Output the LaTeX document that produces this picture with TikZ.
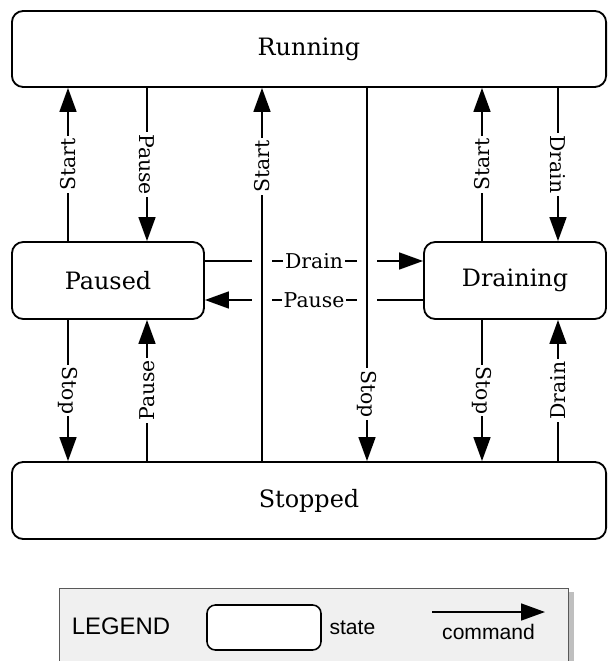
\documentclass[tikz,border=0pt]{standalone}
\usepackage{fontspec}
\setmainfont{DejaVu Serif}
\newfontfamily\legendfont{Liberation Sans}
\usepackage{xcolor}
\usepackage{tikz}
\usetikzlibrary{arrows.meta,positioning,shadows}
\definecolor{stateDark} {gray}{0.00}
\definecolor{legendBand}{gray}{0.94}
\definecolor{legendLine}{gray}{0.35}

\begin{document}
\begin{tikzpicture}[x=0.025cm, y=-0.025cm,
      state/.style={draw=stateDark, line width=1.3pt, rounded corners=8pt,
                    fill=white, font=\fontsize{17}{19}\selectfont},
      cmd/.style={-{Triangle[length=17pt, width=12pt]}, line width=1.3pt, draw=stateDark},
      lbl/.style={fill=white, inner sep=1.5pt, font=\fontsize{14.5}{16}\selectfont},
      gap/.style={draw=white, line width=14pt},
      legtext/.style={font=\legendfont\fontsize{15}{17}\selectfont}]
    \useasboundingbox (0,0) rectangle (608,661);

    % states
    \node[state, minimum width=14.85cm, minimum height=1.9cm]  (running)  at (309,49)    {Running};
    \node[state, minimum width=4.8cm,   minimum height=1.925cm] (paused)   at (108,280.5) {Paused};
    \node[state, minimum width=4.55cm,  minimum height=1.925cm] (draining) at (515,280.5) {Draining};
    \node[state, minimum width=14.85cm, minimum height=1.925cm] (stopped)  at (309,500.5) {Stopped};

    % columns and rows of the commands
    \coordinate (xa) at (68,0);
    \coordinate (xb) at (147,0);
    \coordinate (xc) at (262,0);
    \coordinate (xd) at (367,0);
    \coordinate (xe) at (482,0);
    \coordinate (xf) at (558,0);
    \coordinate (yd) at (0,261);
    \coordinate (yp) at (0,300);

    % Paused <-> Draining
    \draw[cmd] (paused.east |- yd) -- node[lbl] {Drain} (draining.west |- yd);
    \draw[cmd] (draining.west |- yp) -- node[lbl] {Pause} (paused.east |- yp);
    \draw[gap] (xc |- paused.north) -- (xc |- paused.south);
    \draw[gap] (xd |- paused.north) -- (xd |- paused.south);

    % Running <-> Paused
    \draw[cmd] (xa |- paused.north) -- node[lbl, rotate=90] {Start} (xa |- running.south);
    \draw[cmd] (xb |- running.south) -- node[lbl, rotate=-90] {Pause} (xb |- paused.north);
    % Paused <-> Stopped
    \draw[cmd] (xa |- paused.south) -- node[lbl, rotate=-90] {Stop} (xa |- stopped.north);
    \draw[cmd] (xb |- stopped.north) -- node[lbl, rotate=90] {Pause} (xb |- paused.south);
    % Running <-> Stopped
    \draw[cmd] (xc |- stopped.north) -- node[lbl, rotate=90, pos=.79] {Start} (xc |- running.south);
    \draw[cmd] (xd |- running.south) -- node[lbl, rotate=-90, pos=.82] {Stop} (xd |- stopped.north);
    % Running <-> Draining
    \draw[cmd] (xe |- draining.north) -- node[lbl, rotate=90] {Start} (xe |- running.south);
    \draw[cmd] (xf |- running.south) -- node[lbl, rotate=-90] {Drain} (xf |- draining.north);
    % Draining <-> Stopped
    \draw[cmd] (xe |- draining.south) -- node[lbl, rotate=-90] {Stop} (xe |- stopped.north);
    \draw[cmd] (xf |- stopped.north) -- node[lbl, rotate=90] {Drain} (xf |- draining.south);

    % legend
    \node[draw=legendLine, fill=legendBand, minimum width=12.725cm, minimum height=2.05cm,
          drop shadow={shadow xshift=4pt, shadow yshift=-3pt, opacity=.5}]
          (legend) at (313.5,629) {};
    \node[legtext, font=\legendfont\fontsize{17}{19}\selectfont] (legtitle) at (121,626) {LEGEND};
    \node[draw=stateDark, line width=1.1pt, rounded corners=6pt, fill=white,
          minimum width=2.85cm, minimum height=1.125cm] (legstate) at (264,627.5) {};
    \node[legtext, right=2pt of legstate] (legstatetxt) {state};
    \coordinate (legA) at (432,612);
    \coordinate (legB) at (545,612);
    \draw[cmd] (legA) -- node[legtext, below=5pt] {command} (legB);
  \end{tikzpicture}
\end{document}
